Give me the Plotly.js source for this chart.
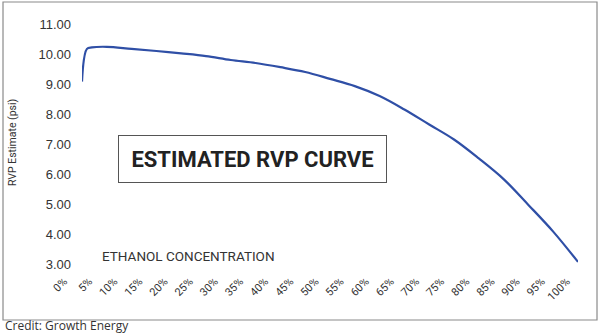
<!DOCTYPE html>
<html>
<head>
<meta charset="utf-8">
<script src="https://cdn.plot.ly/plotly-3.0.1.min.js"></script>
<style>html,body{margin:0;padding:0;background:#fff;}#chart{width:600px;height:335px;}</style>
</head>
<body>
<div id="chart"></div>
<script>
// Ethanol concentration (%) and estimated RVP (psi)
var ethanolPct = [0, 1, 2, 5, 10, 15, 20, 25, 30, 35, 40, 45, 50, 55, 60, 65, 70, 75, 80, 85, 90, 95, 100];
var rvpPsi = [9.08, 10.17, 10.22, 10.24, 10.17, 10.10, 10.02, 9.93, 9.80, 9.70, 9.56, 9.40, 9.17, 8.93, 8.60, 8.15, 7.65, 7.15, 6.52, 5.83, 4.97, 4.08, 3.07];
var xTickVals = [0, 5, 10, 15, 20, 25, 30, 35, 40, 45, 50, 55, 60, 65, 70, 75, 80, 85, 90, 95, 100];
var xTickText = ['0%', '5%', '10%', '15%', '20%', '25%', '30%', '35%', '40%', '45%', '50%', '55%', '60%', '65%', '70%', '75%', '80%', '85%', '90%', '95%', '100%'];
var yTickVals = [3, 4, 5, 6, 7, 8, 9, 10, 11];
var yTickText = ['3.00', '4.00', '5.00', '6.00', '7.00', '8.00', '9.00', '10.00', '11.00'];
var chartTitle = 'ESTIMATED RVP CURVE';
var xLabel = 'ETHANOL CONCENTRATION';
var yLabel = 'RVP Estimate (psi)';
var credit = 'Credit: Growth Energy';

var trace = {
  x: ethanolPct, y: rvpPsi, type: 'scatter', mode: 'lines',
  line: {color: '#2f4fa6', width: 2.2, shape: 'spline', smoothing: 1}, hoverinfo: 'skip', xaxis: 'x', yaxis: 'y'
};
// invisible helper trace for the tick-label axis
var labelTrace = {x: [0, 100], y: [3, 3], type: 'scatter', mode: 'none', xaxis: 'x2', yaxis: 'y', hoverinfo: 'skip', showlegend: false};

var layout = {
  width: 600, height: 335,
  margin: {l: 50, r: 22, t: 24, b: 71},
  paper_bgcolor: '#ffffff', plot_bgcolor: 'rgba(0,0,0,0)',
  showlegend: false,
  xaxis: {domain: [0.0606, 1], range: [0, 100], showgrid: false, zeroline: false, showline: false, showticklabels: false, ticks: ''},
  xaxis2: {domain: [0.0265, 0.979], range: [0, 100], anchor: 'y', side: 'bottom',
    showgrid: false, zeroline: false, showline: false, ticks: '', ticklabelstandoff: 8,
    tickmode: 'array', tickvals: xTickVals, ticktext: xTickText, tickangle: -45,
    tickfont: {family: 'Roboto, sans-serif', size: 11, color: '#333'}},
  yaxis: {range: [3, 11], anchor: 'x', showgrid: false, zeroline: false, showline: false,
    tickmode: 'array', tickvals: yTickVals, ticktext: yTickText, ticks: '', ticklabelstandoff: 10,
    tickfont: {family: 'Liberation Sans, Arial, sans-serif', size: 13, color: '#333'}},
  annotations: [
    {text: '<b>' + chartTitle + '</b>', xref: 'paper', yref: 'paper', x: 0.3835, y: 0.4375,
     xanchor: 'center', yanchor: 'middle', showarrow: false, width: 267, height: 46,
     bordercolor: '#555', borderwidth: 1, borderpad: 0, bgcolor: '#fff',
     font: {family: 'Roboto, sans-serif', size: 22, color: '#222'}},
    {text: xLabel, xref: 'paper', yref: 'paper', x: 0.0947, y: 0.0333, xanchor: 'left', yanchor: 'middle',
     showarrow: false, font: {family: 'Roboto, sans-serif', size: 13.5, color: '#333'}},
    {text: yLabel, xref: 'paper', yref: 'paper', x: -0.0720, y: 0.508, xanchor: 'center', yanchor: 'middle',
     textangle: -90, showarrow: false, font: {family: 'Roboto, sans-serif', size: 10.5, color: '#333'}},
    {text: credit, xref: 'paper', yref: 'paper', x: -0.0890, y: -0.2583, xanchor: 'left', yanchor: 'middle',
     showarrow: false, font: {family: 'Open Sans, sans-serif', size: 12, color: '#333'}}
  ],
  shapes: [
    {type: 'rect', xref: 'paper', yref: 'paper', x0: -0.0890, x1: 1.0360, y0: -0.2333, y1: 1.0917,
     line: {color: '#8a8a8a', width: 1.2}, fillcolor: 'rgba(0,0,0,0)', layer: 'below'}
  ]
};

Plotly.newPlot('chart', [trace, labelTrace], layout, {staticPlot: true, displayModeBar: false});
</script>
</body>
</html>
